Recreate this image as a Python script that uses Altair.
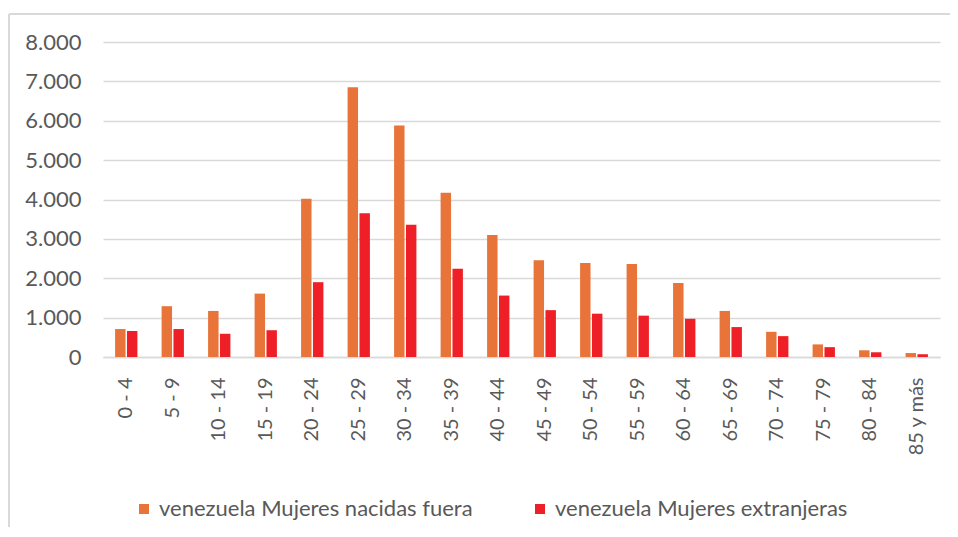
import altair as alt
import pandas as pd

categories = ["0 - 4", "5 - 9", "10 - 14", "15 - 19", "20 - 24", "25 - 29", "30 - 34",
              "35 - 39", "40 - 44", "45 - 49", "50 - 54", "55 - 59", "60 - 64",
              "65 - 69", "70 - 74", "75 - 79", "80 - 84", "85 y más"]
nacidas_fuera = [710, 1290, 1170, 1610, 4020, 6850, 5880, 4170, 3100, 2460, 2390,
                 2360, 1880, 1170, 640, 320, 170, 100]
extranjeras = [660, 710, 590, 680, 1900, 3650, 3360, 2240, 1560, 1190, 1100,
               1050, 970, 760, 530, 250, 120, 70]
series_names = ["venezuela Mujeres nacidas fuera", "venezuela Mujeres extranjeras"]
series_colors = ["#E8743A", "#EE1F27"]

rows = []
for i, c in enumerate(categories):
    rows.append({"grupo": c, "serie": series_names[0], "valor": nacidas_fuera[i]})
    rows.append({"grupo": c, "serie": series_names[1], "valor": extranjeras[i]})
df = pd.DataFrame(rows)

W, H = 837, 315
FONT = "Lato"
GRAY = "#595959"

bars = alt.Chart(df).mark_bar().encode(
    x=alt.X("grupo:N", sort=categories,
            scale=alt.Scale(paddingInner=0.52, paddingOuter=0.26),
            axis=alt.Axis(title=None, labelAngle=270, labelFontSize=20, labelColor=GRAY,
                          labelFont=FONT, ticks=False, domain=True, domainColor="#d9d9d9",
                          domainWidth=1.5, labelPadding=20, grid=False)),
    xOffset=alt.XOffset("serie:N", sort=series_names, scale=alt.Scale(paddingInner=0.12)),
    y=alt.Y("valor:Q", scale=alt.Scale(domain=[0, 8000]),
            axis=alt.Axis(title=None, values=list(range(0, 8001, 1000)), labelFontSize=22,
                          labelFont=FONT, labelColor=GRAY, ticks=False, domain=False,
                          gridColor="#d9d9d9", gridWidth=1.5, labelPadding=22,
                          labelExpr="replace(format(datum.value, ','), ',', '.')")),
    color=alt.Color("serie:N", sort=series_names,
                    scale=alt.Scale(domain=series_names, range=series_colors),
                    legend=alt.Legend(title=None, orient="none", legendX=30, legendY=456,
                                      direction="horizontal", symbolType="square",
                                      symbolSize=100, symbolStrokeWidth=0,
                                      labelFontSize=22, labelFont=FONT, labelColor=GRAY,
                                      labelOffset=4, columnPadding=56, labelLimit=500)),
)

frame_left = alt.Chart(df).mark_rule(color="#d9d9d9", strokeWidth=1.5).encode(
    x=alt.value(-94), y=alt.value(-28), y2=alt.value(490))
frame_top = alt.Chart(df).mark_rule(color="#d9d9d9", strokeWidth=1.5).encode(
    x=alt.value(-94), x2=alt.value(850), y=alt.value(-28))

chart = alt.layer(bars, frame_left, frame_top).properties(
    width=W, height=H,
    autosize=alt.AutoSizeParams(type="none"),
    padding={"left": 95, "top": 34, "right": 10, "bottom": 170},
).configure(background="white", view=alt.ViewConfig(stroke="#ffffff", strokeWidth=1))

chart.save("out.html", embed_options={"renderer": "svg", "actions": False})
